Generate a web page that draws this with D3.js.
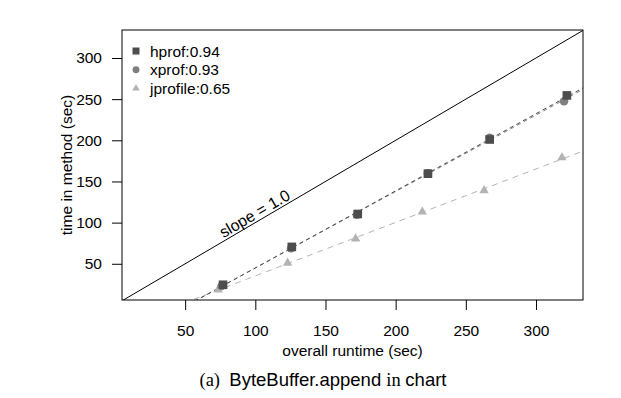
<!DOCTYPE html>
<html>
<head>
<meta charset="utf-8">
<script src="https://cdn.jsdelivr.net/npm/d3@7"></script>
<style>
  body { margin: 0; background: #fff; }
  svg { font-family: "Liberation Sans", Arial, sans-serif; }
</style>
</head>
<body>
<svg id="chart"></svg>
<script>
// data
const hprofX = [77, 126, 173, 223, 267, 322]
const hprofY = [24.5, 70.5, 110.5, 159.5, 201, 254.5]
const xprofX = [76, 125.5, 172.5, 223, 267, 320]
const xprofY = [23, 69, 109.5, 160, 203, 247.5]
const jprofX = [73.5, 123, 171.5, 219, 263, 318.5]
const jprofY = [18.5, 51, 80.5, 113, 139, 179]

const xTicks = [50, 100, 150, 200, 250, 300]
const yTicks = [50, 100, 150, 200, 250, 300]

const series = [
  { name: 'hprof', label: 'hprof:0.94', xs: hprofX, ys: hprofY, color: '#4d4d4d', shape: d3.symbolSquare, size: 75, dash: '4,3.5' },
  { name: 'xprof', label: 'xprof:0.93', xs: xprofX, ys: xprofY, color: '#808080', shape: d3.symbolCircle, size: 58, dash: '4,3.5' },
  { name: 'jprof', label: 'jprofile:0.65', xs: jprofX, ys: jprofY, color: '#b3b3b3', shape: d3.symbolTriangle, size: 38, dash: '6,5' }
]

const W = 621, H = 398
const m = { left: 122, right: 38, top: 30, bottom: 98 }
const fs = 15.5

const svg = d3.select('#chart')
  .attr('width', W)
  .attr('height', H)

const x = d3.scaleLinear().domain([5, 333.5]).range([m.left, W - m.right])
const y = d3.scaleLinear().domain([6, 334]).range([H - m.bottom, m.top])

// least squares fit for each series
function fit(xs, ys) {
  const mx = d3.mean(xs), my = d3.mean(ys)
  let sxy = 0, sxx = 0
  xs.forEach((v, i) => { sxy += (v - mx) * (ys[i] - my); sxx += (v - mx) * (v - mx) })
  const b = sxy / sxx
  return { a: my - b * mx, b: b }
}

svg.append('clipPath').attr('id', 'plotclip')
  .append('rect')
  .attr('x', m.left).attr('y', m.top)
  .attr('width', W - m.left - m.right).attr('height', H - m.top - m.bottom)

const plot = svg.append('g').attr('clip-path', 'url(#plotclip)')

// slope = 1 reference line
const [x0, x1] = x.domain()
plot.append('line')
  .attr('x1', x(x0)).attr('y1', y(x0))
  .attr('x2', x(x1)).attr('y2', y(x1))
  .attr('stroke', '#000')
  .attr('stroke-width', 1)

// fit lines
series.slice().reverse().forEach(s => {
  const f = fit(s.xs, s.ys)
  plot.append('line')
    .attr('x1', x(x0)).attr('y1', y(f.a + f.b * x0))
    .attr('x2', x(x1)).attr('y2', y(f.a + f.b * x1))
    .attr('stroke', s.color)
    .attr('stroke-width', 1)
    .attr('stroke-dasharray', s.dash)
})

// points
series.slice().reverse().forEach(s => {
  plot.selectAll('.pt-' + s.name)
    .data(s.xs.map((v, i) => [v, s.ys[i]]))
    .join('path')
      .attr('class', 'pt-' + s.name)
      .attr('d', d3.symbol().type(s.shape).size(s.size))
      .attr('transform', d => `translate(${x(d[0])},${y(d[1])})`)
      .attr('fill', s.color)
})

// slope label
const ang = Math.atan2(y(x0) - y(x1), x(x1) - x(x0)) * 180 / Math.PI
const lx = 101.5
svg.append('text')
  .attr('transform', `translate(${x(lx)},${y(lx) - 3}) rotate(${-ang})`)
  .attr('text-anchor', 'middle')
  .attr('font-size', 16)
  .text('slope = 1.0')

// box
svg.append('rect')
  .attr('x', m.left).attr('y', m.top)
  .attr('width', W - m.left - m.right).attr('height', H - m.top - m.bottom)
  .attr('fill', 'none')
  .attr('stroke', '#000')
  .attr('stroke-width', 1)

// axes
const xAxis = d3.axisBottom(x).tickValues(xTicks).tickSize(10).tickPadding(15)
const yAxis = d3.axisLeft(y).tickValues(yTicks).tickSize(10).tickPadding(10)

const gx = svg.append('g')
  .attr('transform', `translate(0,${H - m.bottom})`)
  .call(xAxis)
gx.select('.domain').remove()

const gy = svg.append('g')
  .attr('transform', `translate(${m.left},0)`)
  .call(yAxis)
gy.select('.domain').remove()

svg.selectAll('.tick text')
  .attr('font-size', fs)
  .attr('font-family', '"Liberation Sans", Arial, sans-serif')
  .attr('fill', '#000')

svg.append('text')
  .attr('x', (m.left + W - m.right) / 2)
  .attr('y', 355.5)
  .attr('text-anchor', 'middle')
  .attr('font-size', fs)
  .text('overall runtime (sec)')

svg.append('text')
  .attr('transform', `translate(72,${(m.top + H - m.bottom) / 2}) rotate(-90)`)
  .attr('text-anchor', 'middle')
  .attr('font-size', fs)
  .text('time in method (sec)')

// legend
const leg = svg.append('g').attr('transform', 'translate(136,51)')
series.forEach((s, i) => {
  leg.append('path')
    .attr('d', d3.symbol().type(s.shape).size(s.size * 0.65))
    .attr('transform', `translate(0,${i * 18.7})`)
    .attr('fill', s.color)
  leg.append('text')
    .attr('x', 14)
    .attr('y', i * 18.7 + 5.5)
    .attr('font-size', fs)
    .text(s.label)
})

// caption
const cap = svg.append('text')
  .attr('x', 323)
  .attr('y', 385.5)
  .attr('text-anchor', 'middle')
  .attr('font-size', 18.5)
cap.append('tspan').attr('font-family', '"Liberation Serif", serif').text('(a)\u00a0 ')
cap.append('tspan').text('ByteBuffer.append ')
cap.append('tspan').attr('font-family', '"Liberation Serif", serif').text('in ')
cap.append('tspan').text('chart')
</script>
</body>
</html>
